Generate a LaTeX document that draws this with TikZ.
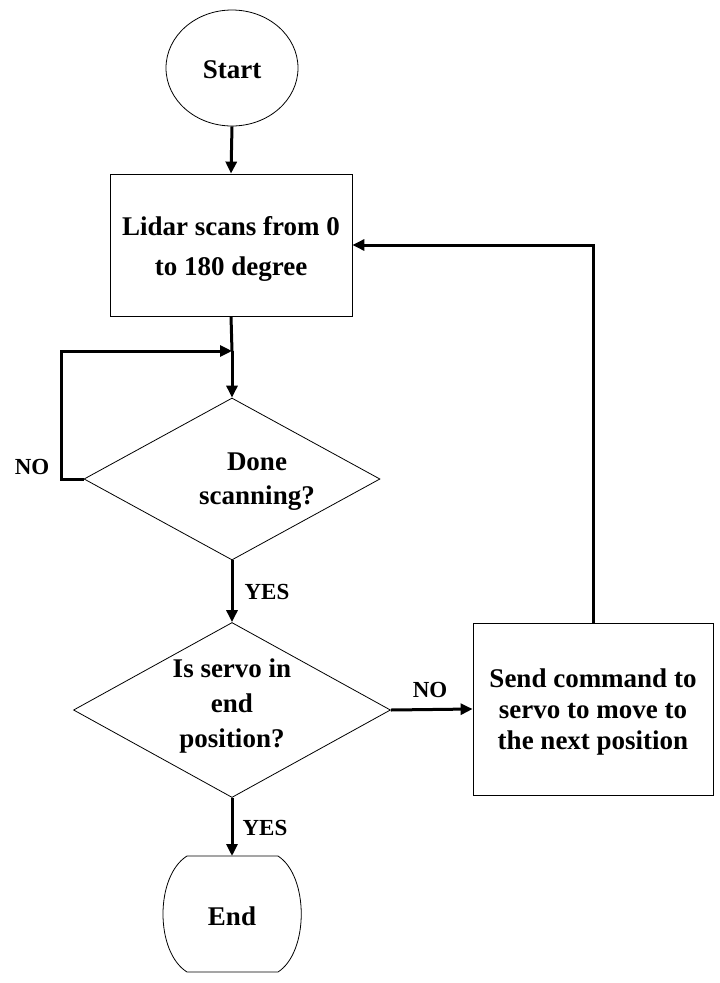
\documentclass[tikz,border=0pt]{standalone}
\usepackage{fontspec}
\setmainfont{Liberation Serif}
\usetikzlibrary{shapes.geometric,arrows.meta}
\begin{document}
\begin{tikzpicture}[x=1pt,y=-1pt,
  shapebox/.style={draw=black,line width=0.8pt,fill=white,inner sep=0pt},
  txt/.style={font=\fontsize{27}{33}\selectfont\bfseries,align=center,inner sep=0pt},
  lbl/.style={font=\fontsize{23}{26}\selectfont\bfseries,inner sep=0pt},
  flow/.style={line width=3pt,-{Triangle[length=12pt,width=11pt]}},
  plain/.style={line width=3pt}]
\useasboundingbox (0,0) rectangle (720,983);
% shapes
\node[shapebox,ellipse,minimum width=132pt,minimum height=116pt] (start) at (232,68) {};
\node[shapebox,rectangle,minimum width=242pt,minimum height=142pt] (b1) at (231,245) {};
\node[shapebox,diamond,minimum width=296pt,minimum height=162pt] (d1) at (232,479) {};
\node[shapebox,diamond,minimum width=317pt,minimum height=175pt] (d2) at (232,710) {};
\node[shapebox,rectangle,minimum width=240pt,minimum height=172pt] (b2) at (593,709) {};
\draw[line width=0.8pt,fill=white] (187,856) -- (278,856)
  .. controls (309,876) and (309,952) .. (278,972) -- (187,972)
  .. controls (155,952) and (155,876) .. (187,856) -- cycle;
\coordinate (endtop) at (232,856);
% texts
\node[txt] (tstart) at (232,70) {Start};
\node[txt,font=\fontsize{27}{40}\selectfont\bfseries] (tb1) at (231,249) {Lidar scans from 0\\to 180 degree};
\node[txt,font=\fontsize{27}{34}\selectfont\bfseries] (td1) at (257,482) {Done\\scanning?};
\node[txt,font=\fontsize{27}{35}\selectfont\bfseries] (td2) at (232,706) {Is servo in\\end\\position?};
\node[txt,font=\fontsize{27}{31}\selectfont\bfseries] (tb2) at (593,712) {Send command to\\servo to move to\\the next position};
\node[txt] (tend) at (232,916) {End};
% connectors
\coordinate (j1) at (232,351);
\draw[flow] (start.south) -- (b1.north);
\draw[plain] (b1.south) -- (j1);
\draw[flow] (j1) -- (d1.north);
\draw[flow] (d1.west) -- ++(-22,0) |- (j1);
\draw[flow] (d1.south) -- (d2.north);
\draw[flow] (d2.east) -- (b2.west);
\draw[flow] (b2.north) |- (b1.east);
\draw[flow] (d2.south) -- (endtop);
% labels
\node[lbl] (no1) at (32,467) {NO};
\node[lbl] (yes1) at (267,592) {YES};
\node[lbl] (no2) at (430,690) {NO};
\node[lbl] (yes2) at (265,828) {YES};
\end{tikzpicture}
\end{document}
